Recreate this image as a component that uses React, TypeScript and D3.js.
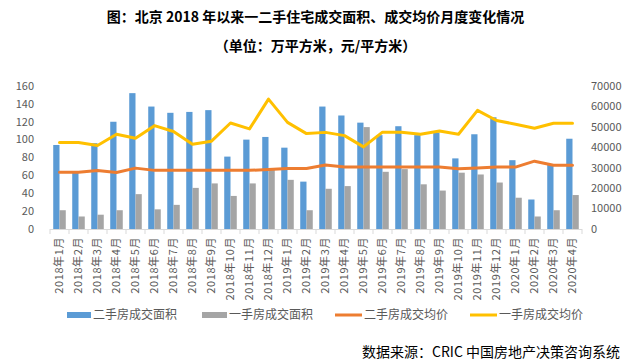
import * as d3 from "d3";

const months = [
  "2018年1月", "2018年2月", "2018年3月", "2018年4月", "2018年5月", "2018年6月",
  "2018年7月", "2018年8月", "2018年9月", "2018年10月", "2018年11月", "2018年12月",
  "2019年1月", "2019年2月", "2019年3月", "2019年4月", "2019年5月", "2019年6月",
  "2019年7月", "2019年8月", "2019年9月", "2019年10月", "2019年11月", "2019年12月",
  "2020年1月", "2020年2月", "2020年3月", "2020年4月",
];

// 二手房成交面积 (万平方米)
const resaleArea = [
  94, 64, 96, 120, 152, 137, 130, 131, 133, 81, 100, 103,
  91, 53, 137, 127, 119, 105, 115, 105, 108, 79, 106, 125,
  77, 33, 72, 101,
];

// 一手房成交面积 (万平方米)
const newArea = [
  21, 14, 16, 21, 39, 22, 27, 46, 51, 37, 51, 66,
  55, 21, 45, 48, 114, 64, 67, 50, 43, 63, 61, 52,
  35, 14, 21, 38,
];

// 二手房成交均价 (元/平方米)
const resalePrice = [
  27800, 27800, 28600, 27700, 29800, 28700, 28700, 28700, 28700, 28700, 28700, 29100,
  29600, 29600, 31300, 30400, 30300, 30300, 30300, 30300, 30300, 29500, 29800, 30300,
  30300, 33200, 31200, 31200,
];

// 一手房成交均价 (元/平方米)
const newPrice = [
  42300, 42300, 40900, 46400, 44400, 50600, 47700, 41500, 43000, 51900, 49000, 63600,
  52200, 46700, 47300, 45700, 40200, 47400, 47400, 46400, 48000, 46400, 58100, 53100,
  51300, 49300, 51800, 51800,
];

const leftTicks = [0, 20, 40, 60, 80, 100, 120, 140, 160];
const rightTicks = [0, 10000, 20000, 30000, 40000, 50000, 60000, 70000];

const series = [
  { name: "二手房成交面积", color: "#5B9BD5", kind: "bar" },
  { name: "一手房成交面积", color: "#A5A5A5", kind: "bar" },
  { name: "二手房成交均价", color: "#ED7D31", kind: "line" },
  { name: "一手房成交均价", color: "#FFC000", kind: "line" },
];

const W = 631;
const H = 361;
const margin = { top: 86, right: 49, bottom: 132, left: 50 };
const font = "'Noto Sans CJK SC', 'Noto Sans', sans-serif";
const textGray = "#595959";

export default function App() {
  const x0 = margin.left;
  const x1 = W - margin.right;
  const yBottom = H - margin.bottom;

  const x = d3.scaleBand<string>().domain(months).range([x0, x1]).paddingInner(0.34).paddingOuter(0.17);
  const step = x.step();
  const sub = d3.scaleBand<string>().domain(["a", "b"]).range([0, x.bandwidth()]);
  const yL = d3.scaleLinear().domain([0, 160]).range([yBottom, margin.top]);
  const yR = d3.scaleLinear().domain([0, 70000]).range([yBottom, margin.top]);
  const cx = (m: string) => (x(m) ?? 0) + x.bandwidth() / 2;

  const lineR = d3.line<number>().x((_, i) => cx(months[i])).y((d) => yR(d));

  // legend swatch positions
  const legendItems = [
    { x: 67, w: 24 },
    { x: 202, w: 25 },
    { x: 335, w: 27 },
    { x: 470, w: 27 },
  ];

  return (
    <svg
      width={W}
      height={H}
      style={{ position: "absolute", left: 0, top: 0, background: "#fff" }}
      fontFamily={font}
    >
      <text x={W / 2} y={22} textAnchor="middle" fontSize={14} fontWeight="bold" fill="#000">
        图：北京 2018 年以来一二手住宅成交面积、成交均价月度变化情况
      </text>
      <text x={W / 2} y={51} textAnchor="middle" fontSize={14} fontWeight="bold" fill="#000">
        （单位：万平方米，元/平方米）
      </text>

      {/* left axis labels */}
      {leftTicks.map((t) => (
        <text key={"l" + t} x={34} y={yL(t)} dy="0.35em" textAnchor="end" fontSize={11} fill={textGray}>
          {t}
        </text>
      ))}
      {/* right axis labels */}
      {rightTicks.map((t) => (
        <text key={"r" + t} x={591} y={yR(t)} dy="0.35em" textAnchor="start" fontSize={11} fill={textGray}>
          {t}
        </text>
      ))}

      {/* bars */}
      {months.map((m, i) => (
        <g key={"b" + m}>
          <rect
            x={(x(m) ?? 0) + (sub("a") ?? 0)}
            y={yL(resaleArea[i])}
            width={sub.bandwidth()}
            height={yBottom - yL(resaleArea[i])}
            fill={series[0].color}
          />
          <rect
            x={(x(m) ?? 0) + (sub("b") ?? 0)}
            y={yL(newArea[i])}
            width={sub.bandwidth()}
            height={yBottom - yL(newArea[i])}
            fill={series[1].color}
          />
        </g>
      ))}

      {/* x axis */}
      <line x1={x0} x2={x1} y1={yBottom + 0.5} y2={yBottom + 0.5} stroke="#D9D9D9" />
      {d3.range(months.length + 1).map((i) => (
        <line
          key={"t" + i}
          x1={x0 + step * i}
          x2={x0 + step * i}
          y1={yBottom}
          y2={yBottom + 5}
          stroke="#D9D9D9"
        />
      ))}
      {months.map((m) => (
        <text
          key={"x" + m}
          transform={`translate(${cx(m)},${yBottom + 8}) rotate(-90)`}
          textAnchor="end"
          dy="0.35em"
          fontSize={11}
          letterSpacing={0.6}
          fill={textGray}
        >
          {m}
        </text>
      ))}

      {/* lines */}
      <path d={lineR(resalePrice) ?? ""} fill="none" stroke={series[2].color} strokeWidth={3} strokeLinejoin="round" strokeLinecap="round" />
      <path d={lineR(newPrice) ?? ""} fill="none" stroke={series[3].color} strokeWidth={3} strokeLinejoin="round" strokeLinecap="round" />

      {/* legend */}
      {series.map((s, i) => (
        <g key={"lg" + s.name}>
          {s.kind === "bar" ? (
            <rect x={legendItems[i].x} y={312} width={legendItems[i].w} height={6} fill={s.color} />
          ) : (
            <line
              x1={legendItems[i].x}
              x2={legendItems[i].x + legendItems[i].w}
              y1={315}
              y2={315}
              stroke={s.color}
              strokeWidth={3}
            />
          )}
          <text x={legendItems[i].x + legendItems[i].w + 2} y={315} dy="0.35em" fontSize={12} fill={textGray}>
            {s.name}
          </text>
        </g>
      ))}

      <text x={620} y={352} dy="0.35em" textAnchor="end" fontSize={14} fill="#000">
        数据来源：CRIC 中国房地产决策咨询系统
      </text>
    </svg>
  );
}
